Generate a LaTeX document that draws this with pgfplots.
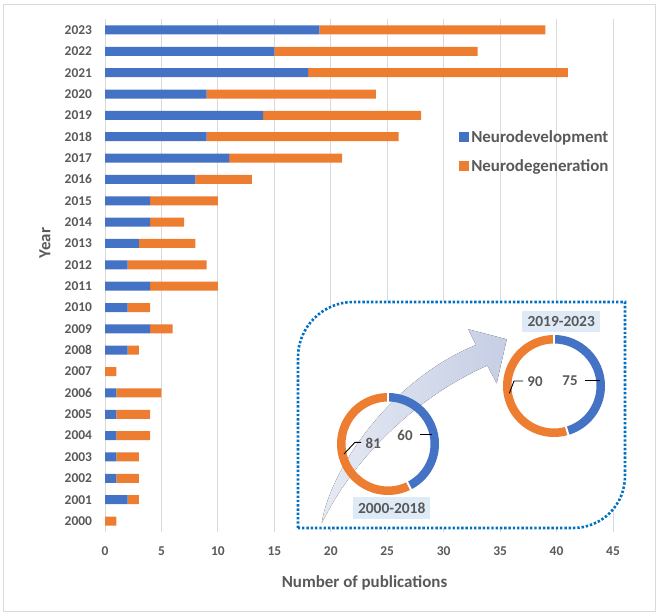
\documentclass[border=0pt]{standalone}
\usepackage{pgfplots}
\pgfplotsset{compat=1.18}
\usepackage{pgfplotstable}
\usepackage{fontspec}
\setmainfont{Carlito}
\usetikzlibrary{calc}

\definecolor{cblue}{HTML}{4472C4}
\definecolor{corange}{HTML}{ED7D31}
\definecolor{tgray}{HTML}{595959}
\definecolor{gridgray}{HTML}{D9D9D9}
\definecolor{insetblue}{HTML}{0070C0}
\definecolor{boxblue}{HTML}{DEEBF7}
\definecolor{arrowc}{RGB}{198,206,229}
\definecolor{arrowlight}{RGB}{230,234,243}

\newcommand\fs[1]{\fontsize{#1}{#1}\selectfont}

% year index (0 = 2000), Neurodevelopment, Neurodegeneration
\pgfplotstableread{
yr dev deg
0 0 1
1 2 1
2 1 2
3 1 2
4 1 3
5 1 3
6 1 4
7 0 1
8 2 1
9 4 2
10 2 2
11 4 6
12 2 7
13 3 5
14 4 3
15 4 6
16 8 5
17 11 10
18 9 17
19 14 14
20 9 15
21 18 23
22 15 18
23 19 20
}\pubs

% period totals (donuts)
\def\devA{60}\def\degA{81}
\def\devB{75}\def\degB{90}

\begin{document}
\begin{tikzpicture}
\useasboundingbox (0,0) rectangle (658bp,-614bp);
\draw[gridgray, line width=0.8bp] (3bp,-4bp) rectangle (655bp,-611bp);

\begin{axis}[
  at={(105bp,-531.7bp)}, anchor=south west,
  scale only axis, width=508bp, height=512.4bp,
  xbar stacked, bar width=9bp,
  xmin=0, xmax=45, ymin=-0.5, ymax=23.5,
  xtick={0,5,...,45}, ytick={0,...,23},
  yticklabels={2000,2001,2002,2003,2004,2005,2006,2007,2008,2009,2010,2011,2012,2013,2014,2015,2016,2017,2018,2019,2020,2021,2022,2023},
  xmajorgrids, grid style={gridgray, line width=0.8bp},
  axis line style={draw=none}, major tick length=0pt,
  /pgf/number format/assume math mode=true,
  tick label style={font=\bfseries\fs{13.5}, text=tgray},
  xticklabel style={yshift=-11.5bp},
  yticklabel style={xshift=-9.5bp},
  xlabel={Number of publications},
  xlabel style={font=\bfseries\fs{17}, text=tgray, at={(axis description cs:0.5,0)}, anchor=center, yshift=-51.5bp, xshift=5.5bp},
  legend style={at={(0.697,0.788)}, anchor=north west, draw=none, fill=none,
     font=\bfseries\fs{17}, text=tgray, row sep=12bp, inner sep=0pt},
  legend cell align=left,
  legend image code/.code={\fill[#1,draw=none] (0bp,-5bp) rectangle (10bp,5bp);},
]
\addplot[fill=cblue, draw=none] table[x=dev, y=yr] {\pubs};
\addplot[fill=corange, draw=none] table[x=deg, y=yr] {\pubs};
\legend{Neurodevelopment, Neurodegeneration}
\end{axis}

\node[rotate=90, font=\bfseries\fs{17}, text=tgray] at (45bp,-243bp) {Year};

\begin{scope}[x=1bp, y=-1bp]
  % inset frame
  \fill[white] (298,528) -- (298,357) .. controls (298,327) and (323,302) .. (353,302)
     -- (625,302) -- (625,476) .. controls (625,505) and (602,528) .. (573,528) -- cycle;
  % arrow
  \fill[left color=arrowlight, right color=arrowc]
     (321.7,523.3) .. controls (330,470) and (390,380) .. (476,345)
     -- (468.3,329.3) -- (506.7,339.3) -- (496.7,383.3) -- (487.3,365.5)
     .. controls (420,395) and (355,455) .. (321.7,523.3) -- cycle;
  \draw[insetblue, line width=2.6bp, dash pattern=on 2.4bp off 1.9bp]
     (298,528) -- (298,357) .. controls (298,327) and (323,302) .. (353,302)
     -- (625,302) -- (625,476) .. controls (625,505) and (602,528) .. (573,528) -- cycle;

  % donut 2000-2018
  \pgfmathsetmacro\aL{-90+360/(\devA+\degA)*\devA}
  \draw[cblue, line width=8.5bp] (388,444) ++(-90:46.75) arc[start angle=-90, end angle=\aL, radius=46.75];
  \draw[corange, line width=8.5bp] (388,444) ++(\aL:46.75) arc[start angle=\aL, end angle=270, radius=46.75];
  \draw[white, line width=2bp] (388,444) ++(-90:41.5) -- ++(-90:10.5);
  \draw[white, line width=2bp] (388,444) ++(\aL:41.5) -- ++(\aL:10.5);

  % donut 2019-2023
  \pgfmathsetmacro\aR{-90+360/(\devB+\degB)*\devB}
  \draw[cblue, line width=8.5bp] (554,386) ++(-90:46.75) arc[start angle=-90, end angle=\aR, radius=46.75];
  \draw[corange, line width=8.5bp] (554,386) ++(\aR:46.75) arc[start angle=\aR, end angle=270, radius=46.75];
  \draw[white, line width=2bp] (554,386) ++(-90:41.5) -- ++(-90:10.5);
  \draw[white, line width=2bp] (554,386) ++(\aR:41.5) -- ++(\aR:10.5);

  % labels
  \draw[black, line width=0.9bp] (420,434) -- (432,434);
  \node[font=\bfseries\fs{15}, text=tgray] at (405,435) {\devA};
  \draw[black, line width=0.9bp] (344,454) -- (355,442.3) -- (361,442.3);
  \node[font=\bfseries\fs{15}, text=tgray] at (373.3,443.3) {\degA};
  \draw[black, line width=0.9bp] (509.3,393.3) -- (514,381) -- (523,381);
  \node[font=\bfseries\fs{15}, text=tgray] at (535,382) {\degB};
  \draw[black, line width=0.9bp] (585,380) -- (600,380);
  \node[font=\bfseries\fs{15}, text=tgray] at (570,381) {\devB};

  \fill[boxblue] (353.3,497) rectangle (430,519.3);
  \node[font=\bfseries\fs{15.5}, text=tgray] at (391.7,508.2) {2000-2018};
  \fill[boxblue] (522.3,311) rectangle (600,332);
  \node[font=\bfseries\fs{15.5}, text=tgray] at (561.2,321.5) {2019-2023};
\end{scope}
\end{tikzpicture}
\end{document}
